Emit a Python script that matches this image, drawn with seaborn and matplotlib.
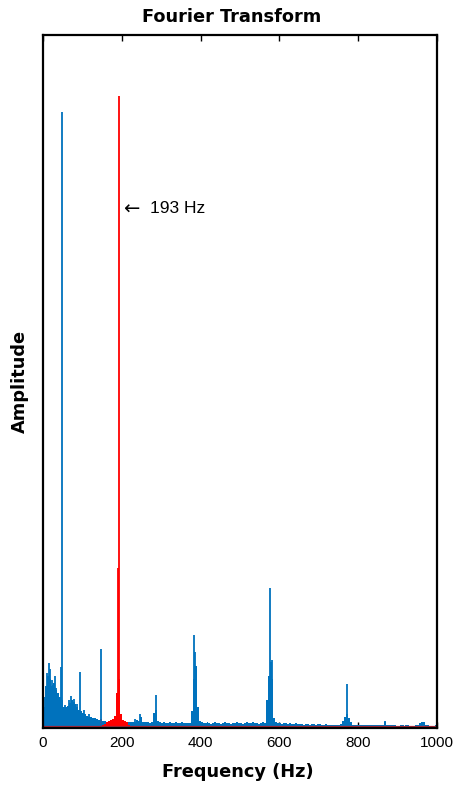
import matplotlib
matplotlib.use("Agg")
import matplotlib.pyplot as plt
import seaborn as sns
import pandas as pd

# ---- spectrum data -------------------------------------------------------
# broadband blue spectrum, one value per 5 Hz bin (bin start frequencies)
blue_bin_start = list(range(0, 1000, 5))
blue_floor = [
    0.030, 0.060, 0.075, 0.070, 0.060, 0.065, 0.055, 0.050, 0.045, 0.040,   # 0-50
    0.030, 0.030, 0.032, 0.036, 0.040, 0.038, 0.034, 0.030, 0.026, 0.025,   # 50-100
    0.022, 0.020, 0.018, 0.016, 0.016, 0.015, 0.014, 0.013, 0.012, 0.011,   # 100-150
    0.010, 0.010, 0.009, 0.009, 0.010, 0.009, 0.009, 0.010, 0.010, 0.010,   # 150-200
    0.009, 0.009, 0.008, 0.009, 0.008, 0.008, 0.009, 0.012, 0.010, 0.016,   # 200-250
    0.009, 0.009, 0.009, 0.008, 0.007, 0.008, 0.022, 0.026, 0.010, 0.008,   # 250-300
    0.007, 0.008, 0.007, 0.007, 0.008, 0.007, 0.007, 0.008, 0.007, 0.007,   # 300-350
    0.008, 0.007, 0.007, 0.007, 0.007, 0.025, 0.070, 0.090, 0.030, 0.010,   # 350-400
    0.008, 0.007, 0.007, 0.008, 0.007, 0.006, 0.007, 0.008, 0.007, 0.007,   # 400-450
    0.006, 0.007, 0.008, 0.007, 0.007, 0.006, 0.007, 0.007, 0.008, 0.007,   # 450-500
    0.007, 0.006, 0.007, 0.008, 0.007, 0.007, 0.008, 0.007, 0.007, 0.006,   # 500-550
    0.007, 0.008, 0.007, 0.040, 0.075, 0.095, 0.070, 0.015, 0.008, 0.007,   # 550-600
    0.007, 0.006, 0.007, 0.007, 0.006, 0.007, 0.006, 0.006, 0.007, 0.006,   # 600-650
    0.006, 0.006, 0.005, 0.006, 0.006, 0.005, 0.006, 0.006, 0.005, 0.006,   # 650-700
    0.006, 0.005, 0.005, 0.006, 0.005, 0.005, 0.005, 0.005, 0.005, 0.005,   # 700-750
    0.005, 0.006, 0.010, 0.016, 0.020, 0.014, 0.008, 0.005, 0.004, 0.004,   # 750-800
    0.004, 0.004, 0.004, 0.004, 0.004, 0.004, 0.004, 0.004, 0.004, 0.004,   # 800-850
    0.004, 0.004, 0.004, 0.009, 0.004, 0.004, 0.004, 0.004, 0.004, 0.003,   # 850-900
    0.003, 0.004, 0.004, 0.003, 0.004, 0.004, 0.003, 0.003, 0.003, 0.004,   # 900-950
    0.005, 0.007, 0.009, 0.008, 0.005, 0.004, 0.003, 0.003, 0.003, 0.004,   # 950-1000
]

# narrow blue spectral lines
blue_line_freq = [3, 7, 10, 13, 16, 19, 22, 26, 30, 33, 37, 41, 45, 47.5,
                  57, 66, 72, 78, 86, 94, 104, 118, 146, 233, 246, 288,
                  384, 387, 576, 580, 771, 868]
blue_line_amp = [0.045, 0.060, 0.079, 0.070, 0.094, 0.085, 0.069, 0.062, 0.075,
                 0.058, 0.048, 0.040, 0.088, 0.889,
                 0.033, 0.040, 0.046, 0.042, 0.035, 0.081, 0.026, 0.020, 0.114,
                 0.013, 0.020, 0.048, 0.134, 0.110, 0.202, 0.098, 0.064, 0.010]

# red component centred on 193 Hz, one value per 5 Hz bin
red_bin_start = list(range(145, 230, 5))
red_floor = [0.013, 0.004, 0.006, 0.008, 0.010, 0.011, 0.013, 0.018, 0.050,
             0.070, 0.020, 0.012, 0.010, 0.008, 0.005, 0.003, 0.002]
red_line_freq = [191, 193]
red_line_amp = [0.231, 0.912]

# near-zero residual running along the axis
floor_freq = [0, 1000]
floor_amp = [0.0015, 0.0015]

peak_freq = 193
peak_amp = 0.912

BLUE = "#0072BD"
RED = "#FF0000"

sns.set_style("ticks")
plt.rcParams["font.family"] = ["Liberation Sans", "DejaVu Sans"]
plt.rcParams["text.color"] = "black"
plt.rcParams["axes.labelcolor"] = "black"

fig = plt.figure(figsize=(4.59, 7.87), dpi=100)
ax = fig.add_axes([43 / 459, 1 - 728 / 787, 394 / 459, 693 / 787])

blue_df = pd.DataFrame({"freq": blue_bin_start, "amp": blue_floor})
sns.histplot(data=blue_df, x="freq", weights="amp", binwidth=5, binrange=(0, 1000),
             color=BLUE, alpha=1, edgecolor=None, linewidth=0, ax=ax)
ax.vlines(blue_line_freq, 0, blue_line_amp, color=BLUE, linewidth=1.3)

red_df = pd.DataFrame({"freq": red_bin_start, "amp": red_floor})
sns.histplot(data=red_df, x="freq", weights="amp", binwidth=5, binrange=(145, 230),
             color=RED, alpha=1, edgecolor=None, linewidth=0, ax=ax)
ax.vlines(red_line_freq, 0, red_line_amp, color=RED, linewidth=1.3)

sns.lineplot(x=floor_freq, y=floor_amp, color="#A8283A", linewidth=1.6, ax=ax)

# peak annotation
ax.text(peak_freq + 10, 0.749, "\u2190", fontsize=14, ha="left", va="center",
        family=["DejaVu Sans"], color="black")
ax.text(peak_freq + 78, 0.749, "193 Hz", fontsize=12.5, ha="left", va="center",
        color="black")

ax.set_xlim(0, 1000)
ax.set_ylim(0, 1)
ax.set_xticks([0, 200, 400, 600, 800, 1000])
ax.set_yticks([])
ax.tick_params(axis="x", direction="in", length=4, width=1, top=True,
               labelsize=11, pad=6, colors="black")
for sp in ax.spines.values():
    sp.set_visible(True)
    sp.set_linewidth(1.6)
    sp.set_color("black")
ax.set_xlabel("")
ax.set_ylabel("")

fig.text(232 / 459, 1 - 17 / 787, "Fourier Transform", ha="center", va="center",
         fontsize=12.8, fontweight="bold", family=["DejaVu Sans"], color="black")
fig.text(238 / 459, 1 - 772 / 787, "Frequency (Hz)", ha="center", va="center",
         fontsize=12.8, fontweight="bold", family=["DejaVu Sans"], color="black")
fig.text(20 / 459, 1 - 381 / 787, "Amplitude", ha="center", va="center",
         rotation=90, fontsize=12.8, fontweight="bold", family=["DejaVu Sans"],
         color="black")

fig.savefig("out.png", dpi=100, facecolor="white")
